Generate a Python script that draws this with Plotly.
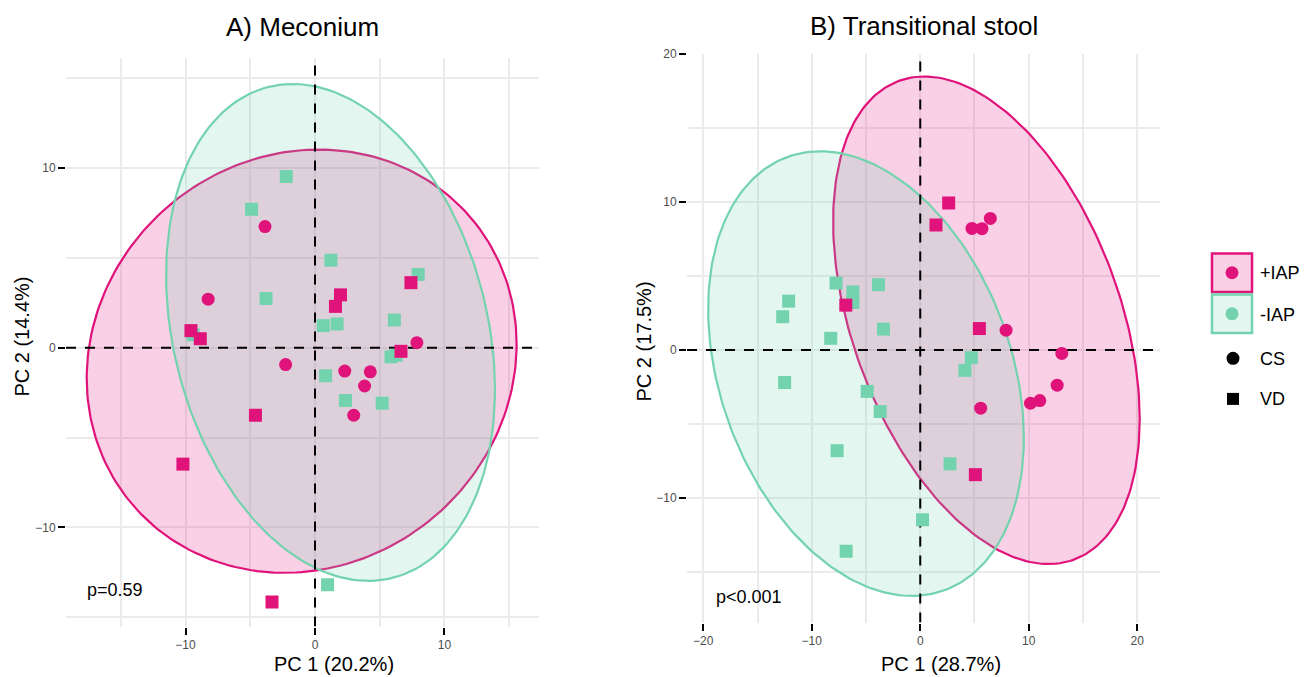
import numpy as np
import plotly.graph_objects as go

# ---------------- data ----------------
# Panel A: Meconium
A_pc1 = [-3.86, -8.25, -2.27, 2.30, 4.27, 3.83, 2.99, 7.87,
         -9.58, -8.86, 1.97, 1.58, 7.41, 6.64, -4.60, -10.20, -3.32,
         -2.22, -4.90, -3.78, 1.23, 7.97, 6.13, 0.64, 1.71, -9.40, 5.87, 6.26, 0.82, 2.35, 5.19, 0.97]
A_pc2 = [6.74, 2.70, -0.94, -1.30, -1.34, -2.13, -3.76, 0.28,
         0.95, 0.50, 2.94, 2.30, 3.62, -0.20, -3.76, -6.48, -14.16,
         9.53, 7.71, 2.74, 4.87, 4.08, 1.54, 1.23, 1.32, 0.72, -0.51, -0.42, -1.56, -2.94, -3.09, -13.19]
A_iap = ["+IAP"] * 17 + ["-IAP"] * 15
A_mode = ["CS"] * 8 + ["VD"] * 9 + ["VD"] * 15

# Panel B: Transitional stool
B_pc1 = [6.46, 5.69, 4.77, 7.91, 13.05, 12.62, 11.02, 10.16, 5.57,
         2.62, 1.45, 5.45, 5.08,
         -7.76, -6.21, -6.21, -3.85, -12.13, -12.68, -3.39, -8.25, 4.71, 4.12,
         -12.50, -4.89, -3.69, -7.66, 2.74, 0.21, -6.83]
B_pc2 = [8.87, 8.18, 8.20, 1.33, -0.24, -2.38, -3.42, -3.60, -3.93,
         9.91, 8.42, 1.44, -8.42,
         4.51, 3.91, 3.20, 4.40, 3.29, 2.24, 1.40, 0.78, -0.53, -1.38,
         -2.20, -2.80, -4.16, -6.80, -7.69, -11.47, -13.58]
B_pc1_extra = [-6.86]   # +IAP VD square drawn on top of the green cluster
B_pc2_extra = [3.02]
B_iap = ["+IAP"] * 13 + ["-IAP"] * 17
B_mode = ["CS"] * 9 + ["VD"] * 4 + ["VD"] * 17

# ellipse parameters per group: centre x, centre y, half-width, half-height, tilt (sin phi)
ELL_A = {"+IAP": [-1.03, -0.75, 16.6, 11.78, 0.08],
         "-IAP": [1.20, 0.85, 12.7, 13.83, -0.23]}
ELL_B = {"+IAP": [6.10, 2.00, 14.13, 16.45, -0.405],
         "-IAP": [-5.00, -1.60, 14.55, 15.0, -0.29]}

P_TEXT = ["p=0.59", "p<0.001"]
TITLES = ["A) Meconium", "B) Transitional stool"]
X_TITLES = ["PC 1 (20.2%)", "PC 1 (28.7%)"]
Y_TITLES = ["PC 2 (14.4%)", "PC 2 (17.5%)"]
X_TICKS_A = [-10, 0, 10]
Y_TICKS_A = [-10, 0, 10]
X_TICKS_B = [-20, -10, 0, 10, 20]
Y_TICKS_B = [-10, 0, 10, 20]

# ---------------- style ----------------
W, H = 1312, 677
PINK = "#E0137B"
GREEN = "#74D3AF"
PINK_FILL = "rgba(224,19,123,0.2)"
GREEN_FILL = "rgba(116,211,175,0.2)"
COL = {"+IAP": PINK, "-IAP": GREEN}
FILL = {"+IAP": PINK_FILL, "-IAP": GREEN_FILL}
SYM = {"CS": "circle", "VD": "square"}
FONT = "Liberation Sans, Arial, sans-serif"

def px(x):
    return x / W

def py(y):
    return 1 - y / H

panels = [
    dict(xa="x", ya="y", dom_x=(66, 539), dom_y=(52, 626), xr=[-19.23, 17.3], yr=[-15.52, 16.1],
         pc1=A_pc1, pc2=A_pc2, iap=A_iap, mode=A_mode, ell=ELL_A, xt=X_TICKS_A, yt=Y_TICKS_A,
         ptxt=(-17.75, -13.5), title_y=20, xtitle_pos=(334, 664), ytitle_pos=(22, 333)),
    dict(xa="x2", ya="y2", dom_x=(687, 1160), dom_y=(47, 622), xr=[-21.5, 22.1], yr=[-18.4, 20.0],
         pc1=B_pc1, pc2=B_pc2, iap=B_iap, mode=B_mode, ell=ELL_B, xt=X_TICKS_B, yt=Y_TICKS_B,
         ptxt=(-19.0, -16.7), title_y=19, xtitle_pos=(941, 664), ytitle_pos=(644, 338)),
]

fig = go.Figure()
t = np.linspace(0, 2 * np.pi, 241)
annotations = []
shapes = []

for i, p in enumerate(panels):
    # ellipses
    for g in ["+IAP", "-IAP"]:
        cx, cy, rx, ry, s = p["ell"][g]
        phi = np.arcsin(s)
        ex = cx + rx * np.cos(t)
        ey = cy + ry * np.sin(t + phi)
        fig.add_trace(go.Scatter(x=ex, y=ey, mode="lines", fill="toself", fillcolor=FILL[g],
                                 line=dict(color=COL[g], width=2.2), xaxis=p["xa"], yaxis=p["ya"],
                                 showlegend=False, hoverinfo="skip"))
    # dashed zero lines
    fig.add_trace(go.Scatter(x=p["xr"], y=[0, 0], mode="lines", line=dict(color="black", width=2, dash="10px,9px"),
                             xaxis=p["xa"], yaxis=p["ya"], showlegend=False, hoverinfo="skip"))
    fig.add_trace(go.Scatter(x=[0, 0], y=p["yr"], mode="lines", line=dict(color="black", width=2, dash="10px,9px"),
                             xaxis=p["xa"], yaxis=p["ya"], showlegend=False, hoverinfo="skip"))
    # points
    for g in ["-IAP", "+IAP"]:
        for m in ["VD", "CS"]:
            xs = [x for x, gi, mi in zip(p["pc1"], p["iap"], p["mode"]) if gi == g and mi == m]
            ys = [y for y, gi, mi in zip(p["pc2"], p["iap"], p["mode"]) if gi == g and mi == m]
            if i == 1 and g == "+IAP" and m == "VD":
                xs = xs + B_pc1_extra
                ys = ys + B_pc2_extra
            if not xs:
                continue
            fig.add_trace(go.Scatter(x=xs, y=ys, mode="markers",
                                     marker=dict(color=COL[g], symbol=SYM[m], size=13,
                                                 line=dict(width=0)),
                                     xaxis=p["xa"], yaxis=p["ya"], showlegend=False, name=f"{g} {m}"))
    # p-value text
    annotations.append(dict(x=p["ptxt"][0], y=p["ptxt"][1], xref=p["xa"], yref=p["ya"], text=P_TEXT[i],
                            showarrow=False, xanchor="left", yanchor="middle",
                            font=dict(family=FONT, size=18, color="black")))
    # titles
    cxp = (p["dom_x"][0] + p["dom_x"][1]) / 2
    annotations.append(dict(x=px(cxp), y=py(p["title_y"]), xref="paper", yref="paper", text=TITLES[i],
                            showarrow=False, xanchor="center", yanchor="middle",
                            font=dict(family=FONT, size=26, color="black")))
    annotations.append(dict(x=px(p["xtitle_pos"][0]), y=py(p["xtitle_pos"][1]), xref="paper", yref="paper",
                            text=X_TITLES[i], showarrow=False, xanchor="center", yanchor="middle",
                            font=dict(family=FONT, size=20, color="black")))
    annotations.append(dict(x=px(p["ytitle_pos"][0]), y=py(p["ytitle_pos"][1]), xref="paper", yref="paper",
                            text=Y_TITLES[i], showarrow=False, textangle=-90, xanchor="center", yanchor="middle",
                            font=dict(family=FONT, size=20, color="black")))

axis_common = dict(showline=False, zeroline=False, showgrid=True, gridcolor="#EBEBEB", gridwidth=1.5,
                   ticks="outside", ticklen=7, tickwidth=2, tickcolor="black",
                   tickfont=dict(family=FONT, size=12, color="#4D4D4D"),
                   minor=dict(dtick=5, tick0=0, showgrid=True, gridcolor="#EBEBEB", gridwidth=1.5, ticks=""))

layout = dict(width=W, height=H, margin=dict(l=0, r=0, t=0, b=0), plot_bgcolor="white", paper_bgcolor="white",
              showlegend=False)
for i, p in enumerate(panels):
    sfx = "" if i == 0 else "2"
    layout["xaxis" + sfx] = dict(axis_common, domain=[px(p["dom_x"][0]), px(p["dom_x"][1])], range=p["xr"],
                                 tickvals=p["xt"], anchor="y" + sfx)
    layout["yaxis" + sfx] = dict(axis_common, domain=[py(p["dom_y"][1]), py(p["dom_y"][0])], range=p["yr"],
                                 tickvals=p["yt"], anchor="x" + sfx)

# ---------------- legend (manual keys) ----------------
LEG_LABELS = ["+IAP", "-IAP", "CS", "VD"]
key_x0, key_x1 = 1212, 1252
for j, (g, y0, y1) in enumerate([("+IAP", 249, 288), ("-IAP", 290.5, 329.5)]):
    shapes.append(dict(type="rect", xref="paper", yref="paper", x0=px(key_x0), x1=px(key_x1), y0=py(y1), y1=py(y0),
                       fillcolor=FILL[g], line=dict(color=COL[g], width=2.5)))
    shapes.append(dict(type="circle", xref="paper", yref="paper", xsizemode="pixel", ysizemode="pixel",
                       xanchor=px(1232), yanchor=py((y0 + y1) / 2), x0=-6.5, x1=6.5, y0=-6.5, y1=6.5,
                       fillcolor=COL[g], line=dict(width=0)))
shapes.append(dict(type="circle", xref="paper", yref="paper", xsizemode="pixel", ysizemode="pixel",
                   xanchor=px(1233), yanchor=py(355), x0=-6.5, x1=6.5, y0=-6.5, y1=6.5,
                   fillcolor="black", line=dict(width=0)))
shapes.append(dict(type="rect", xref="paper", yref="paper", xsizemode="pixel", ysizemode="pixel",
                   xanchor=px(1233), yanchor=py(396), x0=-6, x1=6, y0=-6, y1=6,
                   fillcolor="black", line=dict(width=0)))
for lab, yy in zip(LEG_LABELS, [269, 311, 356, 396]):
    annotations.append(dict(x=px(1258), y=py(yy), xref="paper", yref="paper", text=lab, showarrow=False,
                            xanchor="left", yanchor="middle", font=dict(family=FONT, size=18, color="black")))

layout["annotations"] = annotations
layout["shapes"] = shapes
fig.update_layout(**layout)
fig.write_html("out.html", config={"displayModeBar": False},
               post_script="document.body.style.margin='0';document.body.style.overflow='hidden';")
